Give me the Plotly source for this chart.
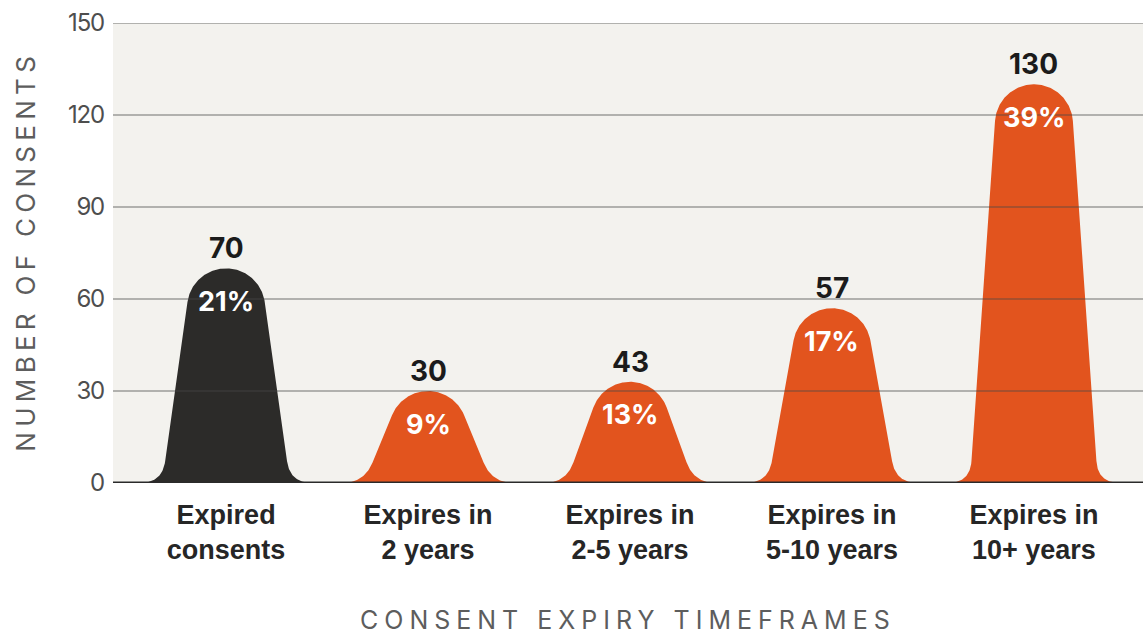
import numpy as np
import plotly.graph_objects as go

# ---------------- data ----------------
categories = ["Expired<br>consents", "Expires in<br>2 years", "Expires in<br>2-5 years",
              "Expires in<br>5-10 years", "Expires in<br>10+ years"]
values = [70, 30, 43, 57, 130]            # labelled counts
drawn_heights = [70, 30, 33, 57, 130]     # peak heights as drawn in the picture
percents = ["21%", "9%", "13%", "17%", "39%"]
y_ticks = [0, 30, 60, 90, 120, 150]
bar_colors = ["#2c2b29", "#e2541e", "#e2541e", "#e2541e", "#e2541e"]

# ---------------- layout constants ----------------
W, H = 1143, 635
ML, MR, MT, MB = 113, 0, 23, 152
X_RANGE = [-0.56, 4.54]
Y_RANGE = [0, 150]
plot_w = W - ML - MR
plot_h = H - MT - MB
px_x = plot_w / (X_RANGE[1] - X_RANGE[0])   # pixels per x unit
px_y = plot_h / (Y_RANGE[1] - Y_RANGE[0])   # pixels per y unit


def bell_path(center, height, r=39.0, wb=64.0, f=22.0, n=40):
    """Bell-like silhouette built in pixel space, returned in data units."""
    Hpx = height * px_y
    C = np.array([0.0, Hpx - r])
    B = np.array([-wb, 0.0])
    v = B - C
    d = np.hypot(*v)
    phi = np.arctan2(v[1], v[0])
    a = np.arccos(r / d)
    cands = [phi + a, phi - a]
    pts_c = [C + r * np.array([np.cos(t), np.sin(t)]) for t in cands]
    k = int(np.argmax([p[1] for p in pts_c]))
    T = pts_c[k]
    t_start = np.arctan2(T[1] - C[1], T[0] - C[0])
    u = (T - B) / np.hypot(*(T - B))
    # foot fillet (quadratic bezier)
    P0 = np.array([-wb - f, 0.0])
    P1 = B
    P2 = B + f * u
    s = np.linspace(0, 1, n)[:, None]
    foot = (1 - s) ** 2 * P0 + 2 * (1 - s) * s * P1 + s ** 2 * P2
    flank = np.vstack([P2, T])
    t_end = np.pi - t_start
    if t_end > t_start:
        t_end -= 2 * np.pi
    ts = np.linspace(t_start, t_end, 4 * n)
    dome = np.column_stack([C[0] + r * np.cos(ts), C[1] + r * np.sin(ts)])
    left = np.vstack([foot, flank])
    right = left[::-1].copy()
    right[:, 0] *= -1
    pts = np.vstack([left, dome, right])
    xs = center + pts[:, 0] / px_x
    ys = pts[:, 1] / px_y
    return xs, ys


fig = go.Figure()

for i, (h, col) in enumerate(zip(drawn_heights, bar_colors)):
    xs, ys = bell_path(i, h)
    fig.add_trace(go.Scatter(x=xs, y=ys, mode="lines", fill="toself",
                             fillcolor=col, line=dict(color=col, width=0),
                             hoverinfo="skip", showlegend=False))

# grid lines drawn above the shapes (semi-transparent)
for t in y_ticks[1:]:
    fig.add_shape(type="line", xref="paper", yref="y", x0=0, x1=1, y0=t, y1=t,
                  line=dict(color="rgba(70,70,70,0.38)", width=2), layer="above")
fig.add_shape(type="line", xref="paper", yref="y", x0=0, x1=1, y0=0, y1=0,
              line=dict(color="#2a2a2a", width=3), layer="above")

annotations = []
for i, (v, h, p) in enumerate(zip(values, drawn_heights, percents)):
    annotations.append(dict(x=i, y=h, xref="x", yref="y", text=str(v), showarrow=False,
                            yanchor="middle", yshift=20,
                            font=dict(family="Inter", size=28, color="#1b1b1b", weight=700)))
    annotations.append(dict(x=i, y=h, xref="x", yref="y", text=p, showarrow=False,
                            yanchor="middle", yshift=-33,
                            font=dict(family="Inter", size=27, color="#ffffff", weight=700)))

annotations.append(dict(x=(628 - ML) / plot_w, y=(MT + plot_h - 620) / plot_h,
                        xref="paper", yref="paper", text="CONSENT EXPIRY TIMEFRAMES",
                        showarrow=False, xanchor="center", yanchor="middle",
                        font=dict(family="Inter", size=25, color="#5d5d5d")))
annotations.append(dict(x=(25 - ML) / plot_w, y=(MT + plot_h - 252) / plot_h,
                        xref="paper", yref="paper", text="NUMBER OF CONSENTS",
                        showarrow=False, xanchor="center", yanchor="middle", textangle=-90,
                        font=dict(family="Inter", size=26, color="#5d5d5d")))

fig.update_layout(
    width=W, height=H,
    margin=dict(l=ML, r=MR, t=MT, b=MB, pad=0),
    paper_bgcolor="#ffffff",
    plot_bgcolor="#f3f2ee",
    annotations=annotations,
    xaxis=dict(range=X_RANGE, tickmode="array", tickvals=list(range(len(categories))),
               ticktext=categories, showgrid=False, zeroline=False, showline=False,
               ticks="", ticklabelstandoff=13,
               tickfont=dict(family="Liberation Sans", size=27, color="#262626", weight=700)),
    yaxis=dict(range=Y_RANGE, tickmode="array", tickvals=y_ticks,
               ticktext=[str(t) for t in y_ticks], showgrid=False, zeroline=False,
               showline=False, ticks="", ticklabelstandoff=8,
               tickfont=dict(family="Inter", size=24, color="#4e4e4e")),
)

post = """
var gd = document.getElementById('{plot_id}');
function spaceTitles(){
  gd.querySelectorAll('text').forEach(function(t){
    var c = t.textContent;
    if (c === 'CONSENT EXPIRY TIMEFRAMES') { t.style.letterSpacing = '6px'; }
    if (c === 'NUMBER OF CONSENTS') { t.style.letterSpacing = '5.3px'; }
    if (/^\\d+$/.test(c) && t.closest('.ytick')) { t.style.letterSpacing = '-1.2px'; }
  });
}
spaceTitles();
setTimeout(spaceTitles, 0);
setTimeout(spaceTitles, 200);
gd.on && gd.on('plotly_afterplot', spaceTitles);
"""

fig.write_html("out.html", post_script=post)
